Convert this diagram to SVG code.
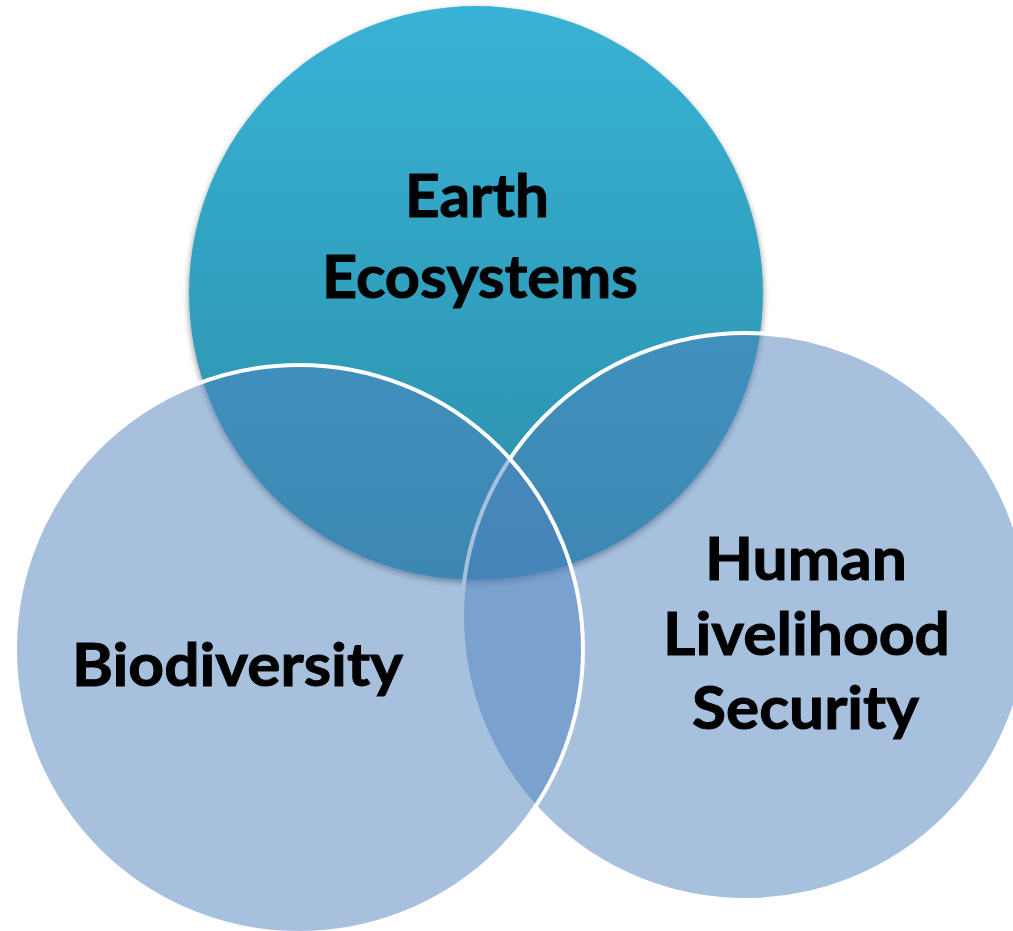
<svg xmlns="http://www.w3.org/2000/svg" width="1013" height="931" viewBox="0 0 1013 931">
  <defs>
    <linearGradient id="tealFill" gradientUnits="userSpaceOnUse" x1="0" y1="6" x2="0" y2="580">
      <stop offset="0" stop-color="#38B2D6"/>
      <stop offset="1" stop-color="#2A8EA8"/>
    </linearGradient>
    <filter id="softShadow" x="-10%" y="-10%" width="120%" height="125%">
      <feDropShadow dx="0" dy="3" stdDeviation="3" flood-color="#000" flood-opacity="0.45"/>
    </filter>
    <style>
      .ring { fill: #4F81BD; fill-opacity: 0.5; stroke: #FFFFFF; stroke-width: 4; }
      .label { font-family: Lato, "Open Sans", "Liberation Sans", sans-serif; font-weight: bold; font-size: 59px; fill: #000000; stroke: #000000; stroke-width: 1; text-anchor: middle; }
    </style>
  </defs>

  <rect width="1013" height="931" fill="#FFFFFF"/>

  <!-- Earth Ecosystems: solid teal circle with drop shadow -->
  <g id="earth-ecosystems">
    <circle cx="476" cy="293" r="287" fill="url(#tealFill)" filter="url(#softShadow)"/>
  </g>

  <!-- Human Livelihood Security: translucent blue circle -->
  <g id="human-livelihood-security">
    <circle class="ring" cx="745.5" cy="616.5" r="283.5"/>
  </g>

  <!-- Biodiversity: translucent blue circle -->
  <g id="biodiversity">
    <circle class="ring" cx="299" cy="649" r="284"/>
  </g>

  <!-- Labels -->
  <g id="labels">
    <text class="label" x="477" y="217" textLength="144" lengthAdjust="spacingAndGlyphs">Earth</text>
    <text class="label" x="480" y="298" textLength="316" lengthAdjust="spacingAndGlyphs">Ecosystems</text>
    <text class="label" x="237.5" y="686" textLength="331" lengthAdjust="spacingAndGlyphs">Biodiversity</text>
    <text class="label" x="806" y="580" textLength="202" lengthAdjust="spacingAndGlyphs">Human</text>
    <text class="label" x="806.5" y="655" textLength="287" lengthAdjust="spacingAndGlyphs">Livelihood</text>
    <text class="label" x="805.5" y="729" textLength="227" lengthAdjust="spacingAndGlyphs">Security</text>
  </g>
</svg>
